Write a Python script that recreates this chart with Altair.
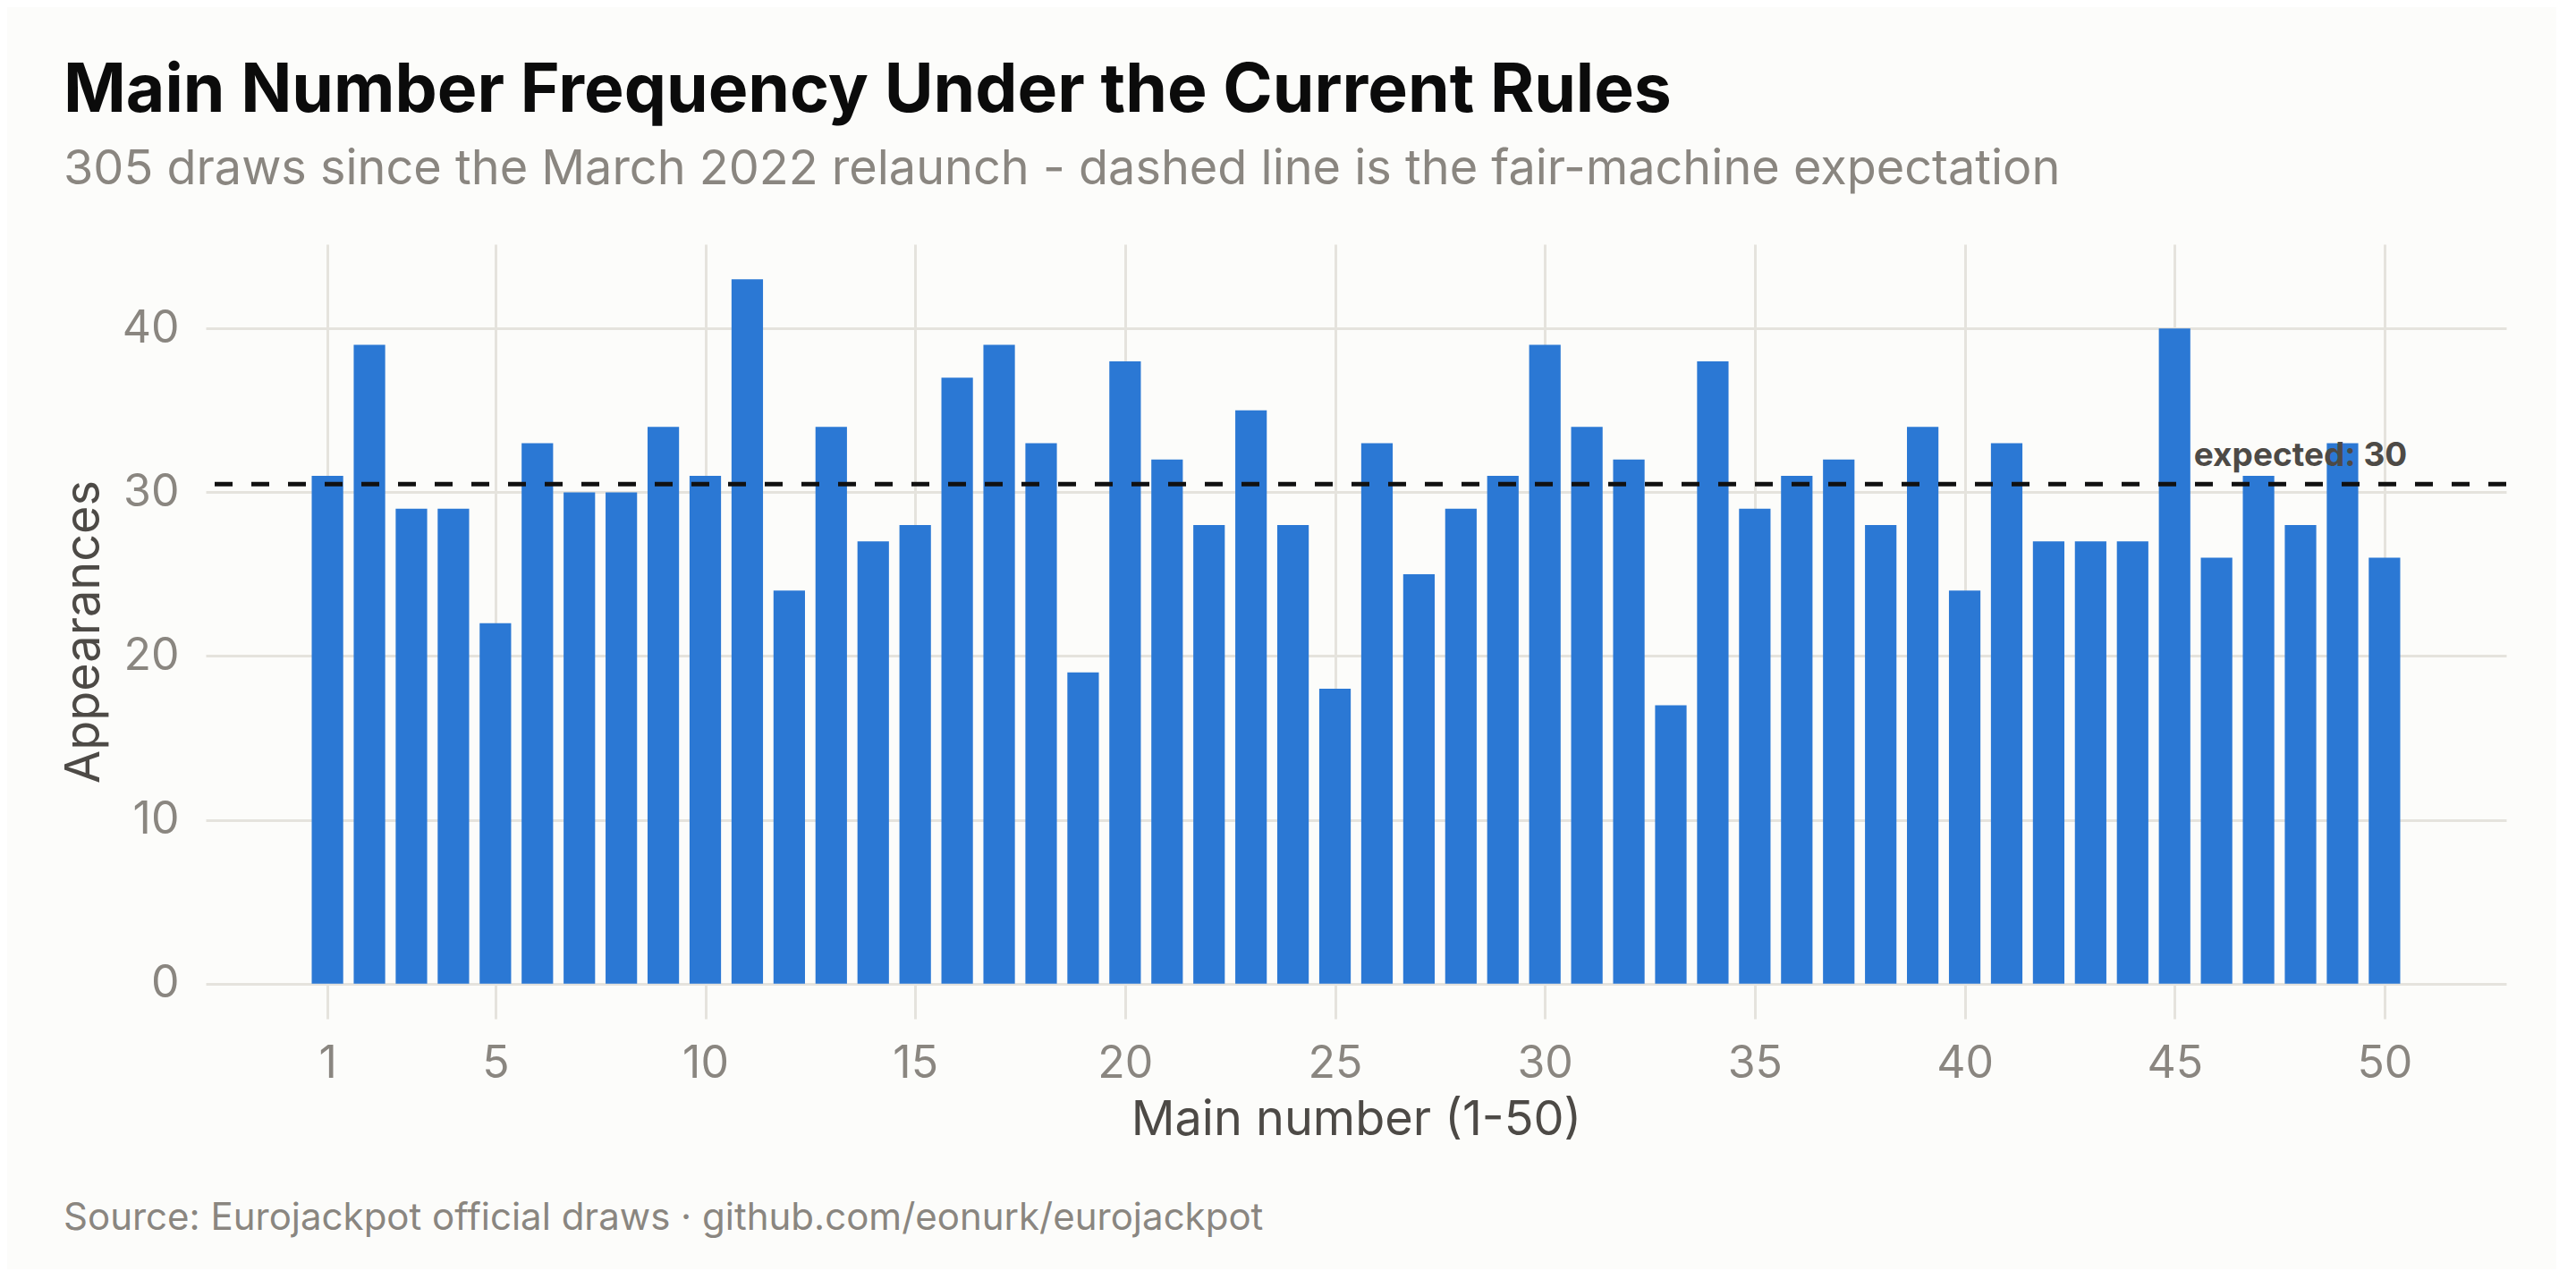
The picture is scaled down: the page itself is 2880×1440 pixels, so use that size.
import altair as alt
import pandas as pd

numbers = list(range(1, 51))
counts = [31, 39, 29, 29, 22, 33, 30, 30, 34, 31,
          43, 24, 34, 27, 28, 37, 39, 33, 19, 38,
          32, 28, 35, 28, 18, 33, 25, 29, 31, 39,
          34, 32, 17, 38, 29, 31, 32, 28, 34, 24,
          33, 27, 27, 27, 40, 26, 31, 28, 33, 26]
x_ticks = [1, 5, 10, 15, 20, 25, 30, 35, 40, 45, 50]
y_ticks = [0, 10, 20, 30, 40]

draws = 305
expected = sum(counts) / len(numbers)
label_x = 48

title_text = "Main Number Frequency Under the Current Rules"
subtitle_text = "305 draws since the March 2022 relaunch - dashed line is the fair-machine expectation"
caption_text = "Source: Eurojackpot official draws \u00b7 github.com/eonurk/eurojackpot"

FONT = "Inter"
BAR = "#2b78d4"
GRID = "#e5e3dd"
TICK_LABEL = "#8a8680"
AXIS_TITLE = "#4d4a46"
BG = "#fcfcfa"

W, H = 2572, 866

bars_df = pd.DataFrame({"number": numbers, "count": counts})
exp_df = pd.DataFrame({"expected": [expected], "x": [label_x],
                       "label": [f"expected: {expected:.0f}"]})
cap_df = pd.DataFrame({"caption": [caption_text]})

xscale = alt.Scale(domain=[-1.9, 52.9], nice=False, zero=False)
yscale = alt.Scale(domain=[-2.15, 45.15], nice=False, zero=False)

bars = alt.Chart(bars_df).transform_calculate(
    x0="datum.number - 0.375", x1="datum.number + 0.375"
).mark_bar(color=BAR).encode(
    x=alt.X("x0:Q", scale=xscale,
            axis=alt.Axis(values=x_ticks, title="Main number (1-50)", format="d")),
    x2="x1:Q",
    y=alt.Y("count:Q", scale=yscale,
            axis=alt.Axis(values=y_ticks, title="Appearances", format="d")),
    y2=alt.datum(0),
)

rule = alt.Chart(exp_df).mark_rule(
    color="#111111", strokeWidth=5, strokeDash=[20, 21]
).encode(y=alt.Y("expected:Q", scale=yscale))

label = alt.Chart(exp_df).mark_text(
    font=FONT, fontSize=37, fontWeight="bold", color=AXIS_TITLE,
    align="center", baseline="alphabetic", dy=-20
).encode(
    x=alt.X("x:Q", scale=xscale),
    y=alt.Y("expected:Q", scale=yscale),
    text="label:N",
)

caption = alt.Chart(cap_df).mark_text(
    font=FONT, fontSize=42, color=TICK_LABEL, align="left", baseline="alphabetic"
).encode(
    x=alt.value(-159), y=alt.value(1102), text="caption:N"
)

chart = alt.layer(bars, rule, label, caption).properties(
    width=W, height=H,
    background=BG,
    autosize=alt.AutoSizeParams(type="none"),
    padding={"left": 222, "top": 265, "right": 56, "bottom": 280},
    title=alt.Title(
        text=title_text, subtitle=subtitle_text,
        anchor="start", frame="group", dx=-159, offset=55,
        font=FONT, fontSize=75, fontWeight="bold", color="#0b0b0b",
        subtitleFont=FONT, subtitleFontSize=54, subtitleColor=TICK_LABEL,
        subtitlePadding=22,
    ),
).configure_view(stroke=None).configure_axis(
    domain=False, ticks=False, tickSize=0,
    grid=True, gridColor=GRID, gridWidth=3,
    labelFont=FONT, labelFontSize=50, labelColor=TICK_LABEL,
    titleFont=FONT, titleFontSize=54, titleColor=AXIS_TITLE, titleFontWeight="normal",
).configure_axisX(labelPadding=25, titlePadding=11).configure_axisY(
    labelPadding=30, titlePadding=15
)

chart.save("out.html", embed_options={"renderer": "svg", "actions": False})
